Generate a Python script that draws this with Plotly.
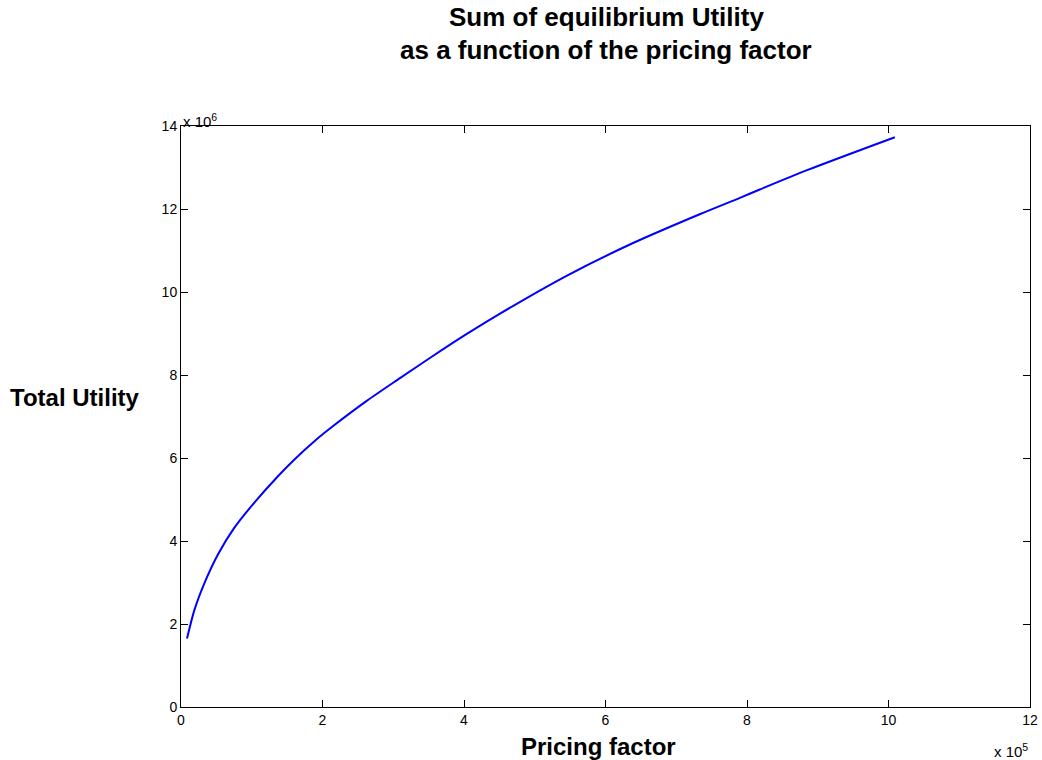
import plotly.graph_objects as go

# Pricing factor (units of 1e5) and total equilibrium utility (units of 1e6)
pricing_factor_e5 = [0.085, 0.19, 0.33, 0.52, 0.75, 1.01, 1.37, 1.60, 1.91, 2.15,
                     2.62, 3.10, 3.57, 4.04, 4.51, 5.45, 6.39, 7.34, 7.90, 8.18,
                     8.84, 10.09]
total_utility_e6 = [1.65, 2.34, 2.98, 3.67, 4.31, 4.87, 5.56, 5.96, 6.44, 6.77,
                    7.37, 7.93, 8.47, 8.99, 9.48, 10.39, 11.18, 11.88, 12.27, 12.47,
                    12.93, 13.73]

x_ticks = [0, 2, 4, 6, 8, 10, 12]
y_ticks = [0, 2, 4, 6, 8, 10, 12, 14]

FONT = "Liberation Sans, Arial, sans-serif"

fig = go.Figure()
fig.add_trace(go.Scatter(
    x=pricing_factor_e5, y=total_utility_e6, mode="lines",
    line=dict(color="#0000ff", width=2, shape="spline", smoothing=0.8),
    showlegend=False, hoverinfo="skip",
))

axis_common = dict(
    showgrid=False, zeroline=False, showline=True, linecolor="black", linewidth=1,
    mirror="ticks", ticks="inside", ticklen=7, tickcolor="black", tickwidth=1,
    tickfont=dict(family=FONT, size=14, color="black"),
    automargin=False, ticklabeloverflow="allow",
)
fig.update_xaxes(range=[0, 12], tickvals=x_ticks, ticktext=[str(v) for v in x_ticks],
                 **axis_common)
fig.update_yaxes(range=[0, 14], tickvals=y_ticks, ticktext=[str(v) for v in y_ticks],
                 **axis_common)

title_font = dict(family=FONT, size=26, color="black")
label_font = dict(family=FONT, size=24, color="black")
exp_font = dict(family=FONT, size=15, color="black")
annotations = [
    dict(text="<b>Sum of equilibrium Utility</b>", x=0.501, y=1.1876,
         xref="paper", yref="paper", xanchor="center", yanchor="middle",
         showarrow=False, font=title_font),
    dict(text="<b>as a function of the pricing factor</b>", x=0.501, y=1.1308,
         xref="paper", yref="paper", xanchor="center", yanchor="middle",
         showarrow=False, font=title_font),
    dict(text="<b>Total Utility</b>", x=-0.046, y=0.532, xref="paper", yref="paper",
         xanchor="right", yanchor="middle", showarrow=False, font=label_font),
    dict(text="<b>Pricing factor</b>", x=0.4923, y=-0.0688, xref="paper", yref="paper",
         xanchor="center", yanchor="middle", showarrow=False, font=label_font),
    dict(text="x 10<sup>6</sup>", x=0.0, y=1.0103, xref="paper", yref="paper",
         xanchor="left", yanchor="middle", showarrow=False, font=exp_font),
    dict(text="x 10<sup>5</sup>", x=1.0, y=-0.0745, xref="paper", yref="paper",
         xanchor="right", yanchor="middle", showarrow=False, font=exp_font),
]

fig.update_layout(
    width=1042, height=760,
    margin=dict(l=181, r=12, t=126, b=53),
    paper_bgcolor="white", plot_bgcolor="white",
    annotations=annotations,
)

fig.write_html("out.html")
